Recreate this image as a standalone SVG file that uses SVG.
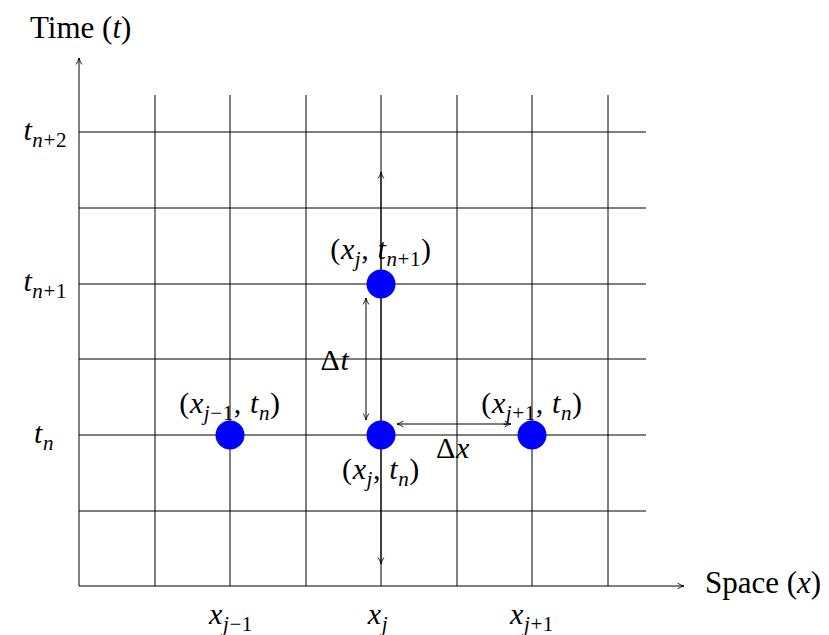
<svg xmlns="http://www.w3.org/2000/svg" width="829" height="635" viewBox="0 0 829 635">
<style>
.g{stroke:#000;stroke-width:1;fill:none}
.ax{stroke:#000;stroke-width:1;fill:none;marker-end:url(#ah)}
.dbl{stroke:#000;stroke-width:1;fill:none;marker-start:url(#ahs);marker-end:url(#ah)}
.dot{fill:#0000ff}
text{font-family:"Liberation Serif","Times New Roman",serif;font-size:30px;fill:#000;letter-spacing:0.6px}
.w{font-size:31px;letter-spacing:0}
.m{text-anchor:middle}
.e{text-anchor:end}
.i{font-style:italic}
.s{font-size:21px}
</style>
<defs>
<marker id="ah" viewBox="0 0 10 10" refX="9" refY="5" markerWidth="8" markerHeight="8" orient="auto" markerUnits="userSpaceOnUse">
<path d="M1,1.5 Q5,4 9,5 Q5,6 1,8.5" fill="none" stroke="#000" stroke-width="1.1"/>
</marker>
<marker id="ahs" viewBox="0 0 10 10" refX="9" refY="5" markerWidth="8" markerHeight="8" orient="auto-start-reverse" markerUnits="userSpaceOnUse">
<path d="M1,1.5 Q5,4 9,5 Q5,6 1,8.5" fill="none" stroke="#000" stroke-width="1.1"/>
</marker>
</defs>
<g id="grid">
<path class="g" d="M155,95V586M230,95V586M306,95V586M381,95V586M457,95V586M532,95V586M608,95V586"/>
<path class="g" d="M79,132H646M79,208H646M79,284H646M79,359H646M79,435H646M79,511H646"/>
</g>
<g id="connectors">
<path class="ax" d="M79,586V58"/>
<path class="ax" d="M79,586H684"/>
<path class="dbl" d="M381,564V172"/>
<path class="dbl" d="M366,420V298"/>
<path class="dbl" d="M397,424H511"/>
</g>
<g id="axis-labels">
<text x="30" y="38" class="w">Time (<tspan class="i">t</tspan>)</text>
<text x="705" y="593" class="w">Space (<tspan class="i">x</tspan>)</text>
<text x="67" y="140" class="e"><tspan class="i">t</tspan><tspan class="s i" dy="7">n</tspan><tspan class="s">+2</tspan></text>
<text x="67" y="291" class="e"><tspan class="i">t</tspan><tspan class="s i" dy="7">n</tspan><tspan class="s">+1</tspan></text>
<text x="54" y="443" class="e"><tspan class="i">t</tspan><tspan class="s i" dy="7">n</tspan></text>
<text x="231" y="624" class="m"><tspan class="i">x</tspan><tspan class="s i" dy="7">j</tspan><tspan class="s">−1</tspan></text>
<text x="378" y="624" class="m"><tspan class="i">x</tspan><tspan class="s i" dy="7">j</tspan></text>
<text x="532" y="624" class="m"><tspan class="i">x</tspan><tspan class="s i" dy="7">j</tspan><tspan class="s">+1</tspan></text>
</g>
<g id="node-xj-tn1">
<circle class="dot" cx="381" cy="284" r="14.5"/>
<text x="381" y="259" class="m">(<tspan class="i">x</tspan><tspan class="s i" dy="7">j</tspan><tspan dy="-7">,  </tspan><tspan class="i">t</tspan><tspan class="s i" dy="7">n</tspan><tspan class="s">+1</tspan><tspan dy="-7">)</tspan></text>
</g>
<g id="node-xj1m-tn">
<circle class="dot" cx="230" cy="435" r="14.5"/>
<text x="230" y="413" class="m">(<tspan class="i">x</tspan><tspan class="s i" dy="7">j</tspan><tspan class="s">−1</tspan><tspan dy="-7">,  </tspan><tspan class="i">t</tspan><tspan class="s i" dy="7">n</tspan><tspan dy="-7">)</tspan></text>
</g>
<g id="node-xj-tn">
<circle class="dot" cx="381" cy="435" r="14.5"/>
<text x="381" y="479" class="m">(<tspan class="i">x</tspan><tspan class="s i" dy="7">j</tspan><tspan dy="-7">,  </tspan><tspan class="i">t</tspan><tspan class="s i" dy="7">n</tspan><tspan dy="-7">)</tspan></text>
</g>
<g id="node-xj1p-tn">
<circle class="dot" cx="532" cy="435" r="14.5"/>
<text x="532" y="413" class="m">(<tspan class="i">x</tspan><tspan class="s i" dy="7">j</tspan><tspan class="s">+1</tspan><tspan dy="-7">,  </tspan><tspan class="i">t</tspan><tspan class="s i" dy="7">n</tspan><tspan dy="-7">)</tspan></text>
</g>
<g id="delta-labels">
<text x="335" y="370" class="m">Δ<tspan class="i">t</tspan></text>
<text x="453" y="458" class="m">Δ<tspan class="i">x</tspan></text>
</g>
</svg>
